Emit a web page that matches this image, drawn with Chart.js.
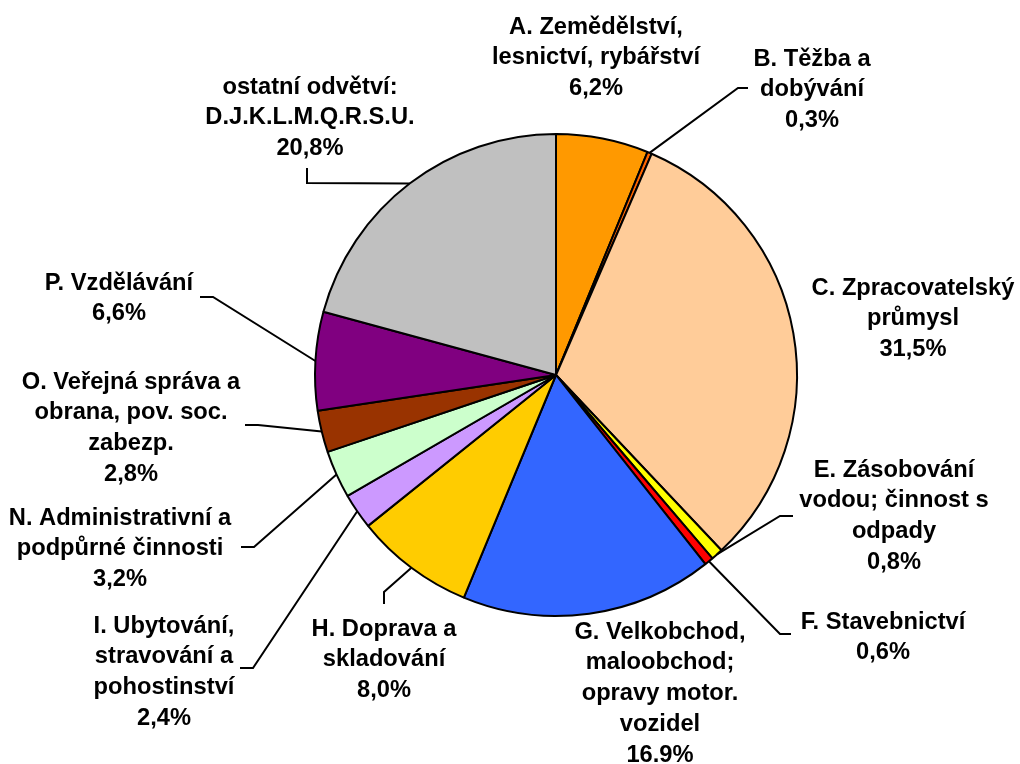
<!DOCTYPE html>
<html>
<head>
<meta charset="utf-8">
<script src="https://cdn.jsdelivr.net/npm/chart.js@4/dist/chart.umd.min.js"></script>
<style>
  html, body { margin: 0; padding: 0; background: #fff; }
  #wrap { width: 1020px; height: 764px; }
</style>
</head>
<body>
<div id="wrap"><canvas id="pieChart" width="1020" height="764"></canvas></div>
<script>
// ===== DATA =====
const categories = [
  ["A. Zemědělství,", "lesnictví, rybářství"],
  ["B. Těžba a", "dobývání"],
  ["C. Zpracovatelský", "průmysl"],
  ["E. Zásobování", "vodou; činnost s", "odpady"],
  ["F. Stavebnictví"],
  ["G. Velkobchod,", "maloobchod;", "opravy motor.", "vozidel"],
  ["H. Doprava a", "skladování"],
  ["I. Ubytování,", "stravování a", "pohostinství"],
  ["N. Administrativní a", "podpůrné činnosti"],
  ["O. Veřejná správa a", "obrana, pov. soc.", "zabezp."],
  ["P. Vzdělávání"],
  ["ostatní odvětví:", "D.J.K.L.M.Q.R.S.U."]
];
const shares   = [6.2, 0.3, 31.5, 0.8, 0.6, 16.9, 8.0, 2.4, 3.2, 2.8, 6.6, 20.8];
const pctText  = ["6,2%", "0,3%", "31,5%", "0,8%", "0,6%", "16.9%", "8,0%", "2,4%", "3,2%", "2,8%", "6,6%", "20,8%"];
const colors   = ["#FF9900", "#FF6600", "#FFCC99", "#FFFF00", "#FF0000", "#3366FF",
                  "#FFCC00", "#CC99FF", "#CCFFCC", "#993300", "#800080", "#C0C0C0"];

// ===== LABEL LAYOUT (center x, first line y) =====
const labelPos = [
  [596, 27], [812, 59], [913, 288], [894, 470], [883, 622], [660, 632],
  [384, 629], [164, 626], [120, 518], [131, 382], [119, 283], [310, 87]
];
// leader line: knee point, end point (null = no line)
const leaders = [
  null, [[738, 88], [748, 88]], null, [[780, 516], [793, 516]], [[780, 634], [791, 634]], null,
  [[384, 592], [384, 604]], [[253, 668], [240, 668]], [[254, 547], [241, 547]],
  [[258, 425], [245, 425]], [[213, 297], [200, 297]], [[307, 183], [307, 168]]
];
const LINE_H = 30.8;

// ===== OUTER LABELS PLUGIN =====
const outerLabels = {
  id: "outerLabels",
  afterDraw(chart) {
    const ctx = chart.ctx;
    const arcs = chart.getDatasetMeta(0).data;
    ctx.save();
    ctx.strokeStyle = "#000";
    ctx.lineWidth = 2;
    arcs.forEach((arc, i) => {
      const ld = leaders[i];
      if (!ld) return;
      const p = arc.getProps(["x", "y", "startAngle", "endAngle", "outerRadius"], true);
      const mid = (p.startAngle + p.endAngle) / 2;
      const sx = p.x + Math.cos(mid) * p.outerRadius;
      const sy = p.y + Math.sin(mid) * p.outerRadius;
      ctx.beginPath();
      ctx.moveTo(sx, sy);
      ctx.lineTo(ld[0][0], ld[0][1]);
      ctx.lineTo(ld[1][0], ld[1][1]);
      ctx.stroke();
    });
    ctx.fillStyle = "#000";
    ctx.font = "bold 23.7px 'Liberation Sans', Arial, sans-serif";
    ctx.textAlign = "center";
    ctx.textBaseline = "middle";
    categories.forEach((lines, i) => {
      const all = lines.concat([pctText[i]]);
      const [cx, cy] = labelPos[i];
      all.forEach((t, j) => ctx.fillText(t, cx, cy + j * LINE_H));
    });
    ctx.restore();
  }
};

new Chart(document.getElementById("pieChart"), {
  type: "pie",
  data: {
    labels: categories.map(c => c.join(" ")),
    datasets: [{ data: shares, backgroundColor: colors, borderColor: "#000", borderWidth: 2 }]
  },
  options: {
    responsive: false,
    animation: false,
    layout: { padding: { left: 314, right: 222, top: 133, bottom: 147 } },
    plugins: { legend: { display: false }, tooltip: { enabled: false } }
  },
  plugins: [outerLabels]
});
</script>
</body>
</html>
